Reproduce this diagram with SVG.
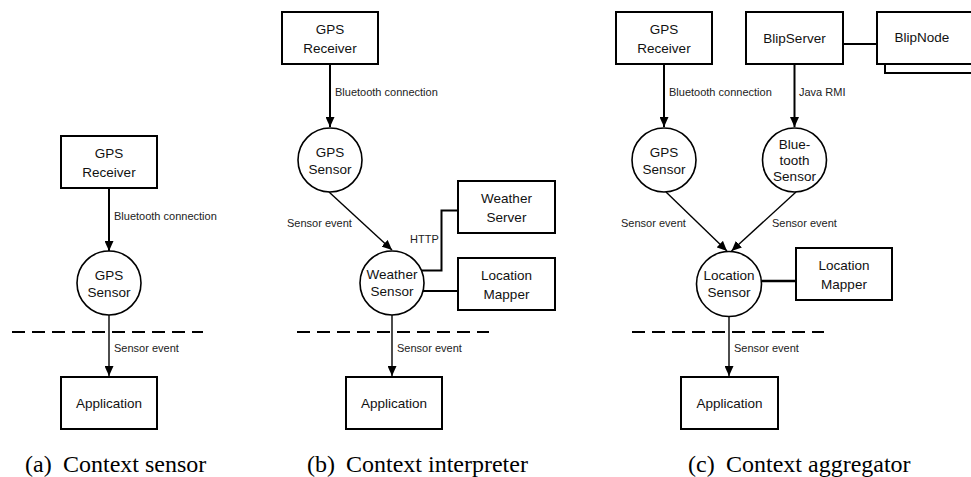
<svg xmlns="http://www.w3.org/2000/svg" width="971" height="477" viewBox="0 0 971 477">
<style>
.box{fill:#fff;stroke:#000;stroke-width:2}
.circ{fill:#fff;stroke:#000;stroke-width:1.6}
.nt{font-family:"Liberation Sans",Arial,sans-serif;font-size:13.5px;fill:#111;text-anchor:middle}
.el{font-family:"Liberation Sans",Arial,sans-serif;font-size:11px;fill:#222}
.cap{font-family:"Liberation Serif","Times New Roman",serif;font-size:24px;fill:#000}
.arr{stroke:#000;stroke-width:2;fill:none;marker-end:url(#ah)}
.arr2{stroke:#000;stroke-width:1.4;fill:none;marker-end:url(#ah)}
.ln{stroke:#000;stroke-width:2;fill:none}
.dash{stroke:#000;stroke-width:2;stroke-dasharray:13 7;fill:none}
</style>
<defs>
<marker id="ah" markerUnits="userSpaceOnUse" markerWidth="10" markerHeight="9" refX="10" refY="4.5" orient="auto">
<path d="M0,0 L10,4.5 L0,9 z" fill="#000"/>
</marker>
</defs>
<rect width="971" height="477" fill="#fff"/>

<!-- separators -->
<g id="separators">
<line class="dash" x1="12" y1="332" x2="203" y2="332"/>
<line class="dash" x1="297" y1="332" x2="489" y2="332"/>
<line class="dash" x1="632" y1="332" x2="824" y2="332"/>
</g>

<!-- connectors -->
<g id="connectors">
<line class="arr" x1="109" y1="188" x2="109" y2="251"/>
<line class="arr2" x1="109" y1="315" x2="109" y2="376"/>
<line class="arr" x1="330" y1="64" x2="330" y2="127"/>
<line class="arr2" x1="329" y1="192" x2="392" y2="250"/>
<polyline class="ln" points="458,210.5 441.5,210.5 441.5,270.5 421.5,270.5"/>
<line class="ln" x1="423" y1="291" x2="458" y2="291"/>
<line class="arr2" x1="392" y1="315" x2="392" y2="376"/>
<line class="arr" x1="664" y1="64" x2="664" y2="127"/>
<line class="arr" x1="794.5" y1="64" x2="794.5" y2="127"/>
<line class="ln" x1="843" y1="44" x2="877" y2="44"/>
<line class="arr2" x1="666" y1="192" x2="727" y2="251"/>
<line class="arr2" x1="796" y1="192" x2="731.5" y2="251"/>
<line class="ln" style="stroke-width:2.5" x1="761.5" y1="281" x2="796" y2="281"/>
<line class="arr2" x1="729" y1="316" x2="729" y2="376"/>
</g>

<!-- edge labels -->
<g id="labels">
<text class="el" x="114" y="220">Bluetooth connection</text>
<text class="el" x="114" y="352">Sensor event</text>
<text class="el" x="335" y="96">Bluetooth connection</text>
<text class="el" x="287" y="227">Sensor event</text>
<text class="el" x="410" y="243">HTTP</text>
<text class="el" x="397" y="352">Sensor event</text>
<text class="el" x="669" y="96">Bluetooth connection</text>
<text class="el" x="799" y="96">Java RMI</text>
<text class="el" x="621" y="227">Sensor event</text>
<text class="el" x="772" y="227">Sensor event</text>
<text class="el" x="734" y="352">Sensor event</text>
</g>

<!-- (a) -->
<g id="a-gps-receiver"><rect class="box" x="61" y="136" width="96" height="52"/><text class="nt" x="109" y="158">GPS</text><text class="nt" x="109" y="176.5">Receiver</text></g>
<g id="a-gps-sensor"><circle class="circ" cx="109" cy="283" r="32"/><text class="nt" x="109" y="279.5">GPS</text><text class="nt" x="109" y="296.5">Sensor</text></g>
<g id="a-application"><rect class="box" x="61" y="377" width="96" height="52"/><text class="nt" x="109" y="407.5">Application</text></g>

<!-- (b) -->
<g id="b-gps-receiver"><rect class="box" x="282" y="12" width="96" height="52"/><text class="nt" x="330" y="34">GPS</text><text class="nt" x="330" y="52.5">Receiver</text></g>
<g id="b-gps-sensor"><circle class="circ" cx="330" cy="160" r="32"/><text class="nt" x="330" y="156.5">GPS</text><text class="nt" x="330" y="173.5">Sensor</text></g>
<g id="b-weather-server"><rect class="box" x="458" y="181" width="97" height="52"/><text class="nt" x="506.5" y="203">Weather</text><text class="nt" x="506.5" y="221.5">Server</text></g>
<g id="b-weather-sensor"><circle class="circ" cx="392" cy="283" r="32"/><text class="nt" x="392" y="279">Weather</text><text class="nt" x="392" y="296">Sensor</text></g>
<g id="b-location-mapper"><rect class="box" x="458" y="258" width="97" height="52"/><text class="nt" x="506.5" y="280">Location</text><text class="nt" x="506.5" y="298.5">Mapper</text></g>
<g id="b-application"><rect class="box" x="346" y="377" width="96" height="52"/><text class="nt" x="394" y="407.5">Application</text></g>

<!-- (c) -->
<g id="c-gps-receiver"><rect class="box" x="616" y="12" width="96" height="52"/><text class="nt" x="664" y="34">GPS</text><text class="nt" x="664" y="52.5">Receiver</text></g>
<g id="c-blipserver"><rect class="box" x="746" y="12" width="97" height="52"/><text class="nt" x="794.5" y="42.5">BlipServer</text></g>
<g id="c-blipnode"><rect class="box" x="885" y="21" width="97" height="52"/><rect class="box" x="877" y="12" width="97" height="52"/><text class="nt" x="922" y="42">BlipNode</text></g>
<g id="c-gps-sensor"><circle class="circ" cx="664" cy="160" r="32"/><text class="nt" x="664" y="156.5">GPS</text><text class="nt" x="664" y="173.5">Sensor</text></g>
<g id="c-bluetooth-sensor"><circle class="circ" cx="794.5" cy="160" r="32"/><text class="nt" x="794.5" y="148.5">Blue-</text><text class="nt" x="794.5" y="164.5">tooth</text><text class="nt" x="794.5" y="181">Sensor</text></g>
<g id="c-location-sensor"><circle class="circ" cx="729" cy="284" r="32.5"/><text class="nt" x="729" y="280">Location</text><text class="nt" x="729" y="297">Sensor</text></g>
<g id="c-location-mapper"><rect class="box" x="796" y="248" width="96" height="52"/><text class="nt" x="844" y="270">Location</text><text class="nt" x="844" y="288.5">Mapper</text></g>
<g id="c-application"><rect class="box" x="681" y="377" width="97" height="52"/><text class="nt" x="729.5" y="407.5">Application</text></g>

<!-- captions -->
<g id="captions">
<text class="cap" y="472"><tspan x="25">(a)</tspan><tspan x="63">Context sensor</tspan></text>
<text class="cap" y="472"><tspan x="307">(b)</tspan><tspan x="346">Context interpreter</tspan></text>
<text class="cap" y="472"><tspan x="688">(c)</tspan><tspan x="726">Context aggregator</tspan></text>
</g>
</svg>
